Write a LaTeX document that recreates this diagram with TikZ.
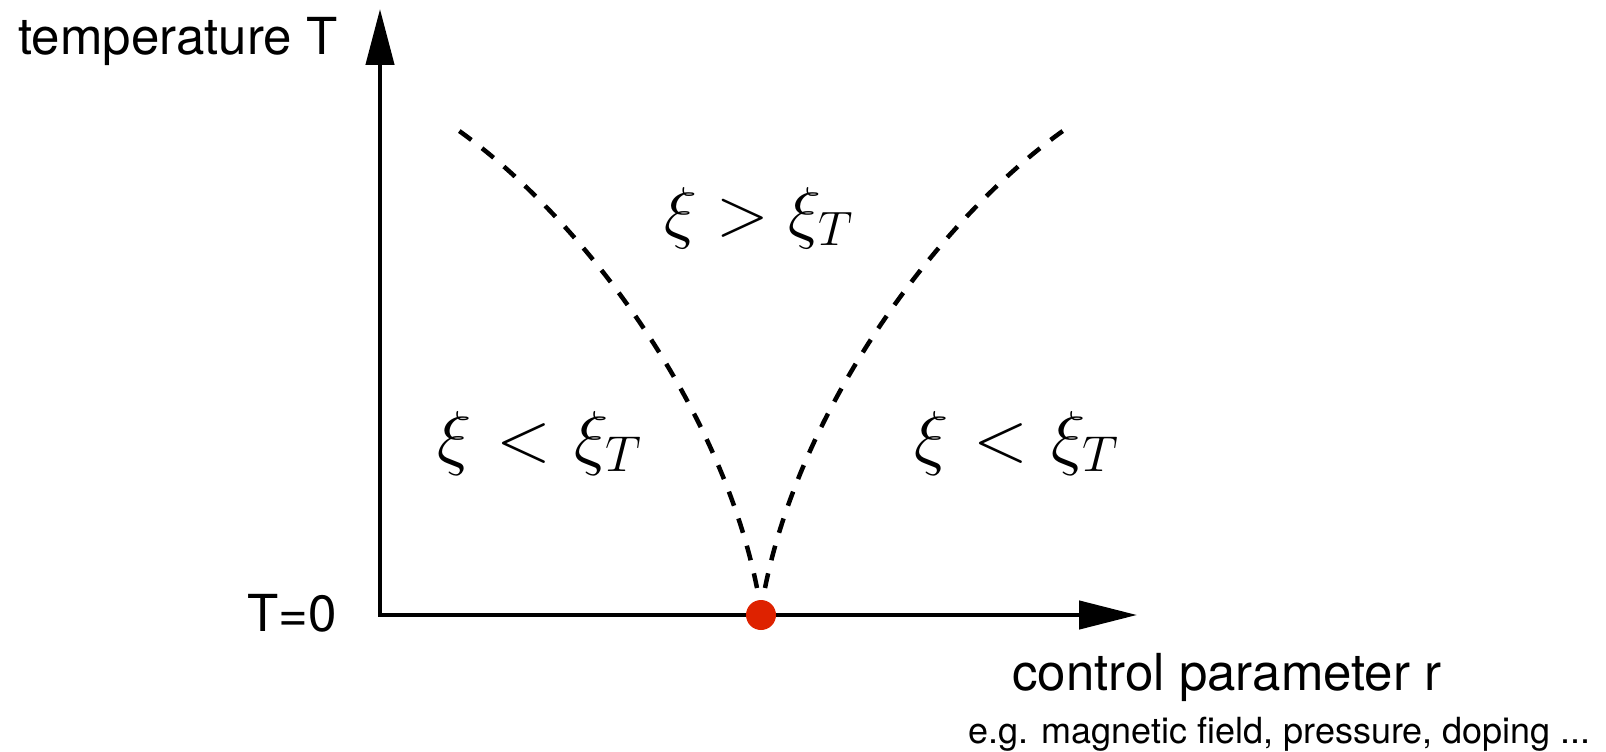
\RequirePackage{fix-cm}
\documentclass[tikz,border=0pt]{standalone}
\usepackage{fix-cm}
\usepackage{fontspec}
\setmainfont{TeX Gyre Heros}
\usetikzlibrary{arrows.meta}
\definecolor{dotred}{RGB}{222,34,0}
\begin{document}
\begin{tikzpicture}[x=1pt,y=-1pt,
  axis/.style={line width=4.5pt, line join=miter},
  crit/.style={line width=4.5pt, dash pattern=on 15pt off 13.5pt},
  lbl/.style={inner sep=0pt, font=\fontsize{51}{60}\selectfont},
  small/.style={inner sep=0pt, font=\fontsize{36}{42}\selectfont},
  toplbl/.style={inner sep=0pt, font=\fontsize{69}{80}\selectfont},
  sidelbl/.style={inner sep=0pt, font=\fontsize{72}{84}\selectfont},
  qcp/.style={circle, fill=dotred, minimum size=30pt, inner sep=0pt}]
\useasboundingbox (0,0) rectangle (1606,752);
% axes
\coordinate (O) at (380,615);
\coordinate (Ytip) at (380,9);
\coordinate (Xtip) at (1137,615);
\draw[axis, {Triangle[length=56pt,width=28pt]}-{Triangle[length=58pt,width=28pt]}] (Ytip) -- (O) -- (Xtip);
% crossover lines
\coordinate (Lb) at (757,588);
\coordinate (Lt) at (455,128);
\coordinate (Rb) at (765,588);
\coordinate (Rt) at (1067,128);
\draw[crit] (Lb) .. controls (721,408) and (585,219) .. (Lt);
\draw[crit] (Rb) .. controls (801,408) and (937,219) .. (Rt);
% quantum critical point
\node[qcp] (qcp) at (761,615) {};
% labels
\node[lbl, anchor=base west] (ylab) at (18,55) {temperature T};
\node[lbl, anchor=base east] (zero) at (337,631) {T=0};
\node[lbl, anchor=base west] (xlab) at (1012,690) {control parameter r};
\node[small, anchor=base west] (eg) at (968,743) {e.g. magnetic field, pressure, doping ...};
\node[toplbl, anchor=base] (above) at (759,235) {$\xi > \xi_T$};
\node[sidelbl, anchor=base] (left) at (540,461) {$\xi \mathrel{\mkern1mu<\mkern1mu} \xi_T$};
\node[sidelbl, anchor=base] (right) at (1017,461) {$\xi \mathrel{\mkern1mu<\mkern1mu} \xi_T$};
\end{tikzpicture}
\end{document}
